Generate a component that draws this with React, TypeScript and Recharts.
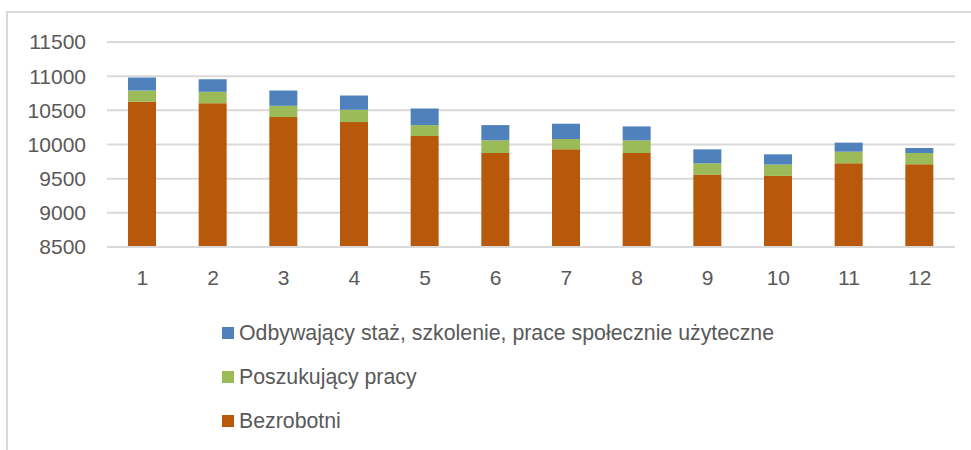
import React from 'react';
import { BarChart, Bar, XAxis, YAxis, CartesianGrid } from 'recharts';

const months = ['1', '2', '3', '4', '5', '6', '7', '8', '9', '10', '11', '12'];
const bezrobotni = [10625, 10605, 10401, 10328, 10124, 9876, 9929, 9876, 9560, 9540, 9725, 9711];
const poszukujacy = [165, 166, 165, 180, 160, 185, 151, 185, 165, 166, 170, 165];
const staz = [190, 184, 224, 209, 243, 223, 224, 204, 204, 150, 132, 73];
const yTicks = [8500, 9000, 9500, 10000, 10500, 11000, 11500];

const seriesNames = {
  bezrobotni: 'Bezrobotni',
  poszukujacy: 'Poszukujący pracy',
  staz: 'Odbywający staż, szkolenie, prace społecznie użyteczne',
};
const colors = { bezrobotni: '#B8580A', poszukujacy: '#9BBB59', staz: '#4F81BD' };

const data = months.map((m, i) => ({
  month: m,
  bezrobotni: bezrobotni[i],
  poszukujacy: poszukujacy[i],
  staz: staz[i],
}));

const FONT = '"Liberation Sans", Arial, sans-serif';
const TEXT = '#595959';

const legendOrder: Array<keyof typeof seriesNames> = ['staz', 'poszukujacy', 'bezrobotni'];
const legendTops = [333, 377, 421];

export default function App() {
  return (
    <div style={{ position: 'absolute', left: 0, top: 0, width: 971, height: 450, overflow: 'hidden', background: '#fff' }}>
      <div style={{ position: 'absolute', left: 6, top: 11, width: 1000, height: 500, border: '2px solid #d9d9d9' }} />
      <div style={{ position: 'absolute', left: 0, top: 0 }}>
        <BarChart width={971} height={450} data={data} margin={{ top: 42, right: 16, left: 7, bottom: 163 }}>
          <CartesianGrid vertical={false} stroke="#d9d9d9" strokeWidth={2} />
          <XAxis
            dataKey="month"
            height={40}
            axisLine={{ stroke: '#d9d9d9', strokeWidth: 2 }}
            tickLine={false}
            tickSize={0}
            tickMargin={23}
            tick={{ fill: TEXT, fontSize: 21, fontFamily: FONT }}
          />
          <YAxis
            width={100}
            domain={[8500, 11500]}
            ticks={yTicks}
            allowDataOverflow
            axisLine={false}
            tickLine={false}
            tickSize={0}
            tickMargin={21}
            tick={{ fill: TEXT, fontSize: 21, fontFamily: FONT }}
          />
          <Bar dataKey="bezrobotni" stackId="a" fill={colors.bezrobotni} barSize={28} isAnimationActive={false} />
          <Bar dataKey="poszukujacy" stackId="a" fill={colors.poszukujacy} barSize={28} isAnimationActive={false} />
          <Bar dataKey="staz" stackId="a" fill={colors.staz} barSize={28} isAnimationActive={false} />
        </BarChart>
      </div>
      {legendOrder.map((k, i) => (
        <div key={k} style={{ position: 'absolute', left: 222, top: legendTops[i] - 14, height: 28, display: 'flex', alignItems: 'center', fontFamily: FONT, fontSize: 21.3, color: TEXT, whiteSpace: 'nowrap' }}>
          <span style={{ display: 'inline-block', width: 12, height: 12, background: colors[k], marginRight: 5 }} />
          <span>{seriesNames[k]}</span>
        </div>
      ))}
    </div>
  );
}
